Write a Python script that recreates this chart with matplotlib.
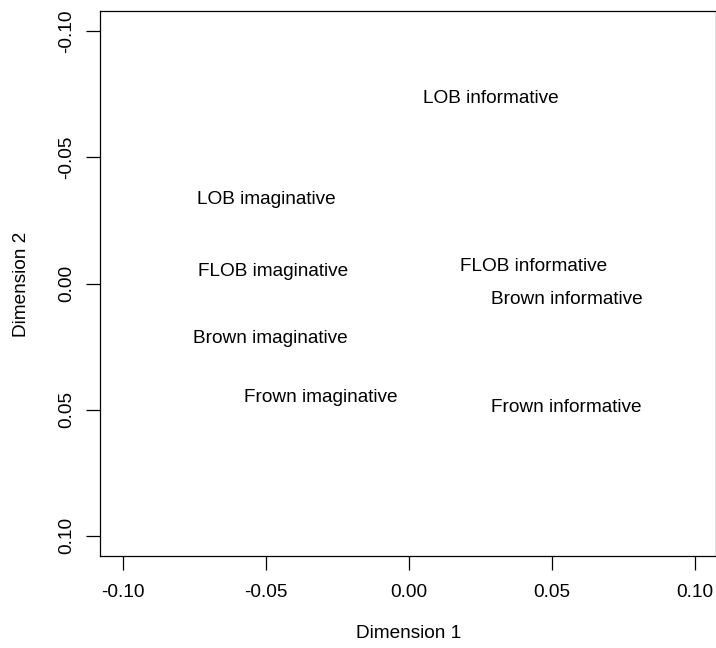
import matplotlib
matplotlib.use("Agg")
import matplotlib.pyplot as plt

# MDS coordinates of corpus sections
labels = ["LOB informative", "LOB imaginative", "FLOB imaginative", "FLOB informative",
          "Brown informative", "Brown imaginative", "Frown imaginative", "Frown informative"]
dim1 = [0.0287, -0.0500, -0.0476, 0.0437, 0.0552, -0.0483, -0.0308, 0.0549]
dim2 = [-0.0741, -0.0341, -0.0055, -0.0075, 0.0055, 0.0210, 0.0444, 0.0483]

x_ticks = [-0.10, -0.05, 0.00, 0.05, 0.10]
y_ticks = [-0.10, -0.05, 0.00, 0.05, 0.10]

plt.rcParams["font.family"] = ["Liberation Sans", "DejaVu Sans"]
FS = 13.7

fig = plt.figure(figsize=(7.16, 6.48), dpi=100)
ax = fig.add_axes([100 / 716, 1 - 556 / 648, 616 / 716, 545 / 648])

for lab, x, y in zip(labels, dim1, dim2):
    ax.text(x, y, lab, ha="center", va="center_baseline", fontsize=FS)

ax.set_xlim(-0.108, 0.1073)
ax.set_ylim(0.108, -0.108)
ax.set_xticks(x_ticks)
ax.set_xticklabels([f"{v:.2f}" for v in x_ticks])
ax.set_yticks(y_ticks)
ax.set_yticklabels([f"{v:.2f}" for v in y_ticks], rotation=90, va="center")
ax.tick_params(axis="x", length=10, width=0.9, pad=10, labelsize=FS, direction="out")
ax.tick_params(axis="y", length=10, width=0.9, pad=8, labelsize=FS, direction="out")
for s in ax.spines.values():
    s.set_linewidth(0.9)

fig.text(409 / 716, 1 - 634 / 648, "Dimension 1", ha="center", va="center", fontsize=FS)
fig.text(22 / 716, 1 - 284 / 648, "Dimension 2", ha="center", va="center", rotation=90, fontsize=FS)

fig.savefig("out.png", dpi=100)
